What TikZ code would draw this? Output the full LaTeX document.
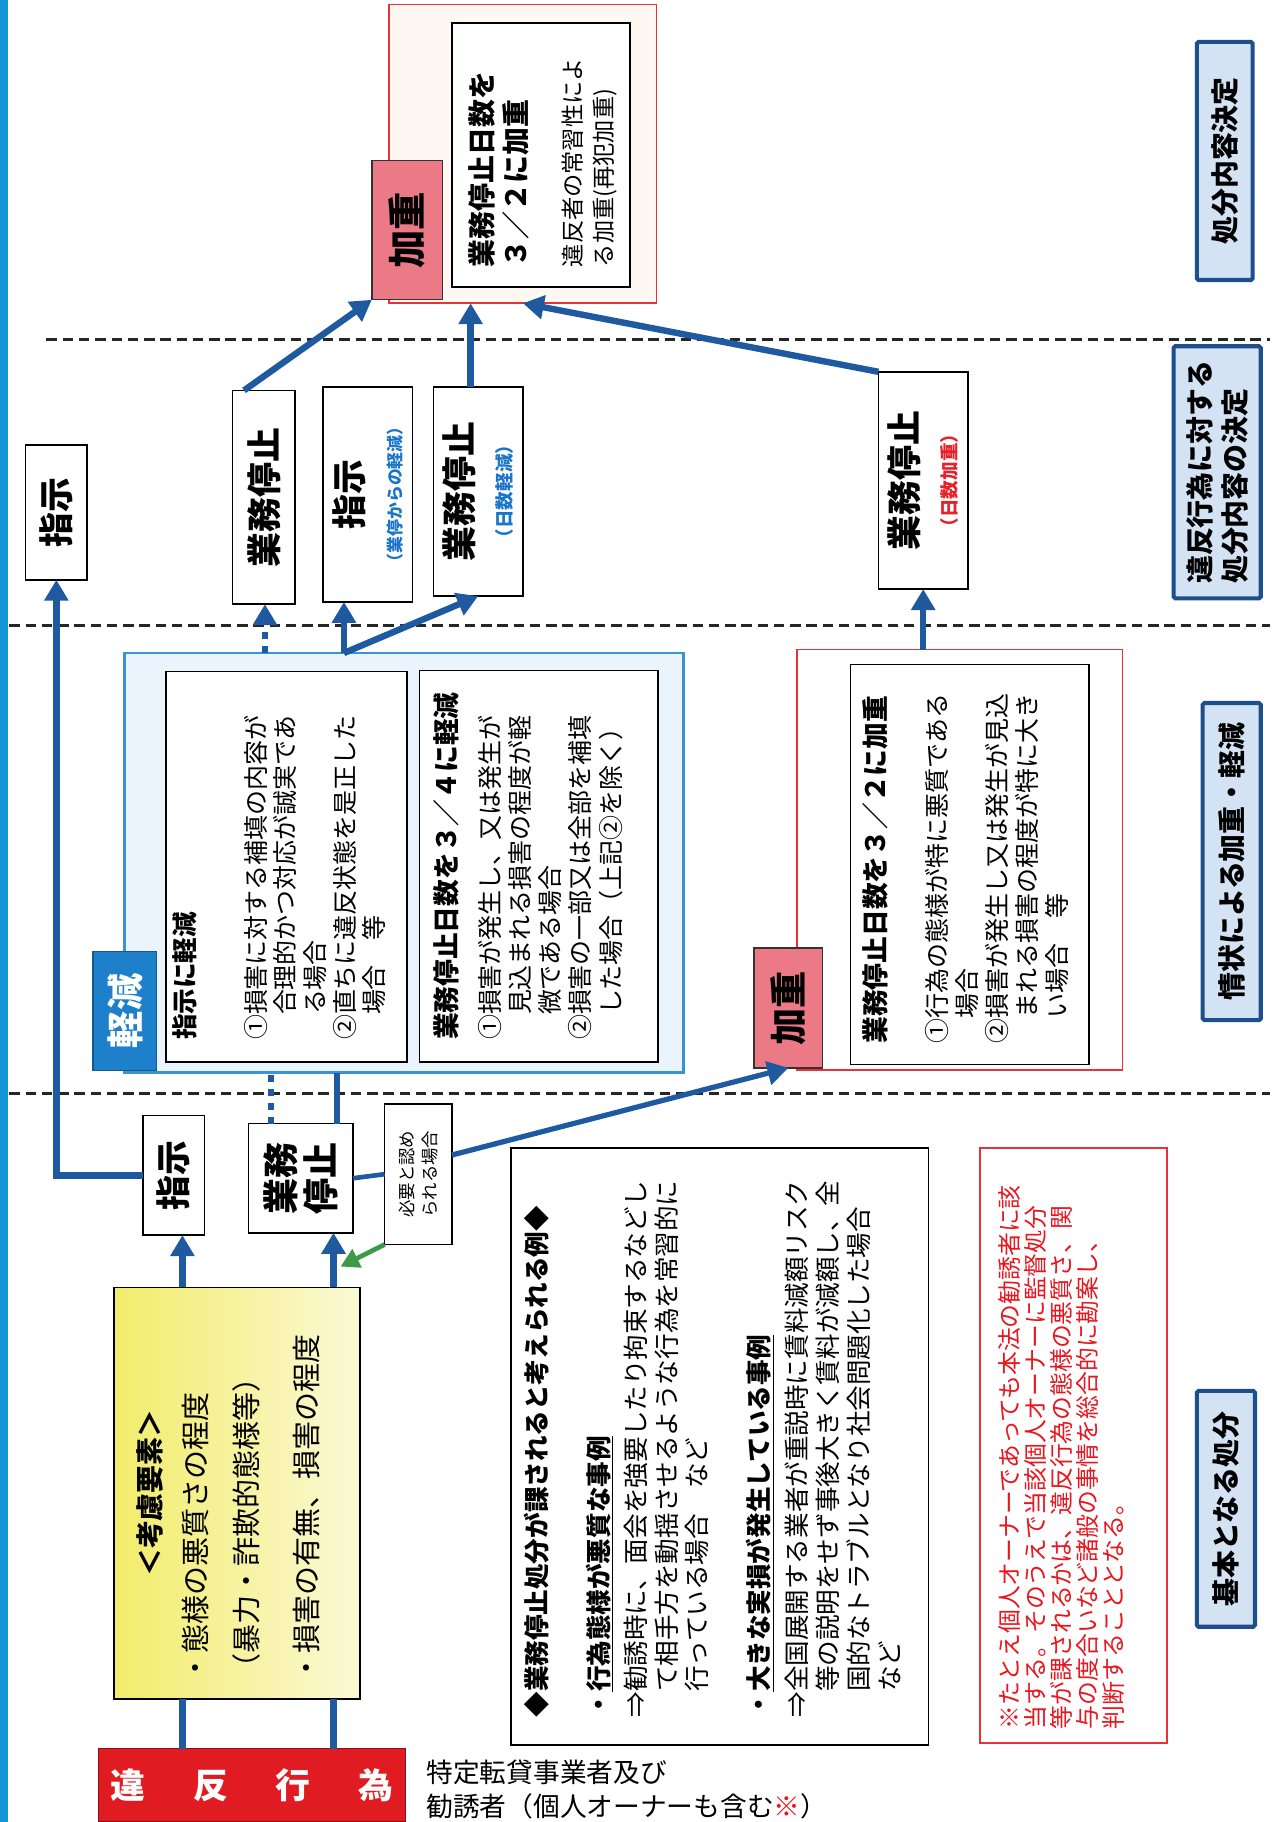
\documentclass[tikz,border=0pt]{standalone}
\usepackage{fontspec}
\setmainfont{Noto Sans CJK JP}
\usetikzlibrary{arrows.meta}
\definecolor{arrblue}{HTML}{1F5AA0}
\definecolor{labfill}{HTML}{D3E3F4}
\definecolor{labdraw}{HTML}{1F4E8C}
\definecolor{kgdraw}{HTML}{3A93D3}
\definecolor{kgfill}{HTML}{E9F4FC}
\definecolor{kglbl}{HTML}{1E7FCB}
\definecolor{pinkf}{HTML}{EC7A86}
\definecolor{redln}{HTML}{E8323A}
\definecolor{ihanred}{HTML}{E01B22}
\definecolor{yel1}{HTML}{F2EC6A}
\definecolor{yel2}{HTML}{FBF9D6}
\definecolor{notered}{HTML}{E8161E}
\definecolor{subblue}{HTML}{1B75C8}
\definecolor{subred}{HTML}{E8202A}
\definecolor{grn}{HTML}{3C9A48}
\definecolor{stripc}{HTML}{1596D8}
\definecolor{cream}{HTML}{FDF8F2}
\begin{document}
\begin{tikzpicture}[x=1pt,y=1pt,rotate=90,transform shape,
  every node/.style={inner sep=0pt,outer sep=0pt},
  sz/.style 2 args={minimum width=#1pt,minimum height=#2pt},
  bx/.style={draw=black,line width=1.4pt,fill=white},
  lab/.style={draw=labdraw,line width=3.5pt,fill=labfill,rounded corners=1.5pt,align=left,font=\bfseries\fontsize{24}{30}\selectfont},
  big/.style={font=\bfseries\fontsize{30}{32}\selectfont,align=center},
  txt/.style={anchor=west,align=left,font=\fontsize{21.5}{25.5}\selectfont},
  hd/.style={anchor=west,align=left,font=\bfseries\fontsize{23}{27}\selectfont},
  arr/.style={draw=arrblue,line width=5.5pt,-{Triangle[length=18pt,width=20pt]}},
  ln/.style={draw=arrblue,line width=5.5pt},
  thinln/.style={draw=arrblue,line width=4pt},
  dotl/.style={draw=arrblue,line width=5.5pt,dash pattern=on 6pt off 6pt},
  dotarr/.style={dotl,-{Triangle[length=18pt,width=20pt]}},
  garr/.style={draw=grn,line width=4pt,-{Triangle[length=16pt,width=17pt]}},
  divider/.style={draw=black!85,line width=2.6pt,dash pattern=on 9pt off 5pt}
]
\useasboundingbox (0,-1100) rectangle (1568,0);
\fill[white] (0,-1100) rectangle (1568,0);
\fill[stripc] (0,-7) rectangle (1568,0);
% dividers
\draw[divider] (1276,-40) -- (1276,-1093);
\draw[divider] (1030,-8) -- (1030,-1093);
\draw[divider] (627,-8) -- (627,-1093);

% column labels
\node[lab,sz={205}{48}] (labA) at (1429.5,-1054) {処分内容決定};
\node[lab,sz={217}{75}] (labB) at (1161.5,-1047.5) {違反行為に対する\\処分内容の決定};
\node[lab,sz={273}{50}] (labC) at (826.5,-1060) {情状による加重・軽減};
\node[lab,sz={203}{50}] (labD) at (269.5,-1055) {基本となる処分};

% top group
\node[draw=redln,line width=1.5pt,fill=cream,sz={257}{230}] (kajuTBox) at (1435.5,-450) {};
\node[bx,sz={227}{153}] (kajuTIn) at (1434.5,-465.5) {};
\node[hd,font=\bfseries\fontsize{24}{29}\selectfont] (kajuTt1) at (1338,-429.5) {業務停止日数を\\３／２に加重};
\node[txt,font=\fontsize{20}{27}\selectfont] (kajuTt2) at (1338,-507.5) {違反者の常習性によ\\る加重(再犯加重)};
\node[draw=black!80,line width=1.2pt,fill=pinkf,sz={120}{61},font=\bfseries\fontsize{33}{33}\selectfont] (kajuT) at (1370,-350.5) {加重};

% row of decisions
\node[bx,sz={116}{53},big] (shijiT) at (1127,-48.5) {指示};
\node[bx,sz={184}{54},big] (gyoA) at (1140,-227) {業務停止};
\node[bx,sz={185}{77},big] (shijiB) at (1142.5,-316.5) {指示\\[2pt]{\color{subblue}\fontsize{14.5}{16}\selectfont（業停からの軽減）}};
\node[bx,sz={180}{77},big] (gyoB) at (1145,-411.5) {業務停止\\[2pt]{\color{subblue}\fontsize{16}{18}\selectfont（日数軽減）}};
\node[bx,sz={187}{77},big] (gyoC) at (1154.5,-794.5) {業務停止\\[2pt]{\color{subred}\fontsize{16}{18}\selectfont（日数加重）}};

% keigen
\node[draw=kgdraw,line width=2.5pt,fill=kgfill,sz={361}{481}] (keigenBox) at (825.5,-347.5) {};
\node[bx,sz={336}{207}] (inA) at (822,-246.5) {};
\node[bx,sz={337}{205}] (inB) at (822.5,-463.5) {};
\node[hd,font=\bfseries\fontsize{22}{26}\selectfont] (inAh) at (673,-159) {指示に軽減};
\node[txt] (inAt) at (673,-271) {①損害に対する補填の内容が\\　合理的かつ対応が誠実であ\\　る場合\\②直ちに違反状態を是正した\\　場合　等};
\node[hd] (inBh) at (673,-384) {業務停止日数を３／４に軽減};
\node[txt,font=\fontsize{21.5}{26}\selectfont] (inBt) at (673,-473.5) {①損害が発生し、又は発生が\\　見込まれる損害の程度が軽\\　微である場合\\②損害の一部又は全部を補填\\　した場合（上記②を除く）};
\node[fill=kglbl,draw=kglbl!70!black,line width=1pt,sz={102}{55},text=white,font=\bfseries\fontsize{32}{32}\selectfont] (keigenLbl) at (698,-107.5) {軽減};

% kaju lower
\node[draw=redln,line width=1.5pt,fill=white,sz={362}{280}] (kajuBox) at (828,-826) {};
\node[bx,sz={344}{205}] (kajuIn) at (824,-834.5) {};
\node[hd] (kajuh) at (670,-753) {業務停止日数を３／２に加重};
\node[txt,font=\fontsize{21.5}{26}\selectfont] (kajut) at (670,-858) {①行為の態様が特に悪質である\\　場合\\②損害が発生し又は発生が見込\\　まれる損害の程度が特に大き\\　い場合　等};
\node[draw=black!80,line width=1.2pt,fill=pinkf,sz={103}{59},font=\bfseries\fontsize{32}{32}\selectfont] (kajuLbl) at (700.5,-678.5) {加重};

% basic disposal
\node[bx,sz={103}{53},big] (shijiL) at (556.5,-149.5) {指示};
\node[bx,sz={94}{90},font=\bfseries\fontsize{31}{34}\selectfont,align=center] (gyoL) at (554,-259) {業務\\停止};
\node[bx,sz={121}{58},font=\fontsize{15}{20}\selectfont,align=center] (hitsuyo) at (557.5,-360) {必要と認め\\られる場合};
\node[draw=black,line width=1.4pt,left color=yel1,right color=yel2,sz={354}{212}] (kouryo) at (283,-204) {};
\node[font=\bfseries\fontsize{24}{24}\selectfont] (kouryoH) at (283,-129) {＜考慮要素＞};
\node[txt,font=\fontsize{25}{25}\selectfont] (k1) at (120,-168) {・態様の悪質さの程度};
\node[txt,font=\fontsize{25}{25}\selectfont] (k2) at (120,-212) {（暴力・詐欺的態様等）};
\node[txt,font=\fontsize{25}{25}\selectfont] (k3) at (120,-264) {・損害の有無、損害の程度};

\node[bx,sz={514}{359}] (reiBox) at (323,-619.5) {};
\node[hd,font=\bfseries\fontsize{22}{26}\selectfont] (reiH) at (90,-462) {◆業務停止処分が課されると考えられる例◆};
\node[hd,font=\bfseries\fontsize{22}{26}\selectfont] (rei1) at (90,-516) {・\underline{行為態様が悪質な事例}};
\node[txt,font=\fontsize{22}{26.5}\selectfont] (rei1t) at (90,-573.5) {⇒勧誘時に、面会を強要したり拘束するなどし\\　て相手方を動揺させるような行為を常習的に\\　行っている場合　など};
\node[hd,font=\bfseries\fontsize{22}{26}\selectfont] (rei2) at (90,-654) {・\underline{大きな実損が発生している事例}};
\node[txt,font=\fontsize{22}{26.7}\selectfont] (rei2t) at (90,-725.5) {⇒全国展開する業者が重説時に賃料減額リスク\\　等の説明をせず事後大きく賃料が減額し、全\\　国的なトラブルとなり社会問題化した場合\\　など};

\node[draw=redln,line width=1.6pt,fill=white,sz={512}{161}] (noteBox) at (324,-923.5) {};
\node[txt,text=notered,font=\fontsize{20.5}{22.3}\selectfont] (noteT) at (80,-913.5) {※たとえ個人オーナーであっても本法の勧誘者に該\\当する。そのうえで当該個人オーナーに監督処分\\等が課されるかは、違反行為の態様の悪質さ、関\\与の度合いなど諸般の事情を総合的に勘案し、\\判断することとなる。};

\node[fill=ihanred,draw=ihanred!60!black,line width=1pt,sz={63}{264}] (ihan) at (31.5,-217) {};
\node[rotate=-90,text=white,font=\bfseries\fontsize{30}{30}\selectfont] (ihanT) at (ihan.center) {\makebox[243pt]{違\hfill 反\hfill 行\hfill 為}};
\node[rotate=-90,anchor=west,align=left,font=\fontsize{23}{29}\selectfont] (tokutei) at (28,-367) {特定転貸事業者及び\\勧誘者（個人オーナーも含む{\color{notered}※}）};

% connectors
\coordinate (x157) at (0,-157);
\coordinate (x287) at (0,-287);
\coordinate (x233) at (0,-233);
\coordinate (x290) at (0,-290);
\coordinate (x228) at (0,-228);
\coordinate (x296) at (0,-296);
\coordinate (x405) at (0,-405);
\coordinate (gEnd) at (478,-293);
\coordinate (hOut) at (574,-389);
\coordinate (aStart) at (1232,-210);

\draw[ln] (ihan.east |- x157) -- (kouryo.west |- x157);
\draw[ln] (ihan.east |- x287) -- (kouryo.west |- x287);
\draw[arr] (kouryo.east |- x157) -- (shijiL.west |- x157);
\draw[arr] (kouryo.east |- x287) -- (gyoL.west |- x287);
\draw[garr] (hitsuyo.north west) -- (gEnd);
\draw[thinln] (gyoL.south) -- (hitsuyo.north);
\draw[arr,line width=4.5pt] (hOut) -- (kajuLbl.west);
\draw[arr] (shijiL.north) |- (shijiT.west);
\draw[dotl] (gyoL.east |- x233) -- (keigenBox.west |- x233);
\draw[ln] (gyoL.east |- x290) -- (keigenBox.west |- x290);
\draw[dotarr] (keigenBox.east |- x228) -- (gyoA.west |- x228);
\draw[arr] (keigenBox.east |- x296) -- (shijiB.west |- x296);
\draw[arr] (keigenBox.east |- x296) -- (gyoB.west);
\draw[arr] (kajuBox.east |- gyoC.west) -- (gyoC.west);
\draw[arr] (aStart) -- (kajuT.north west);
\draw[arr] (gyoB.east |- x405) -- (kajuTBox.west |- x405);
\draw[arr] (gyoC.north east) -- (kajuTBox.west);
\end{tikzpicture}
\end{document}
